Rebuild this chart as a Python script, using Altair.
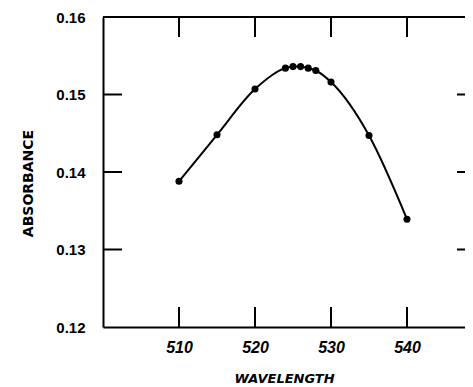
import altair as alt
import pandas as pd

# data
wavelength = [510, 515, 520, 524, 525, 526, 527, 528, 530, 535, 540]
absorbance = [0.1388, 0.1448, 0.1507, 0.1534, 0.1536, 0.1536, 0.1534, 0.1531, 0.1516, 0.1447, 0.1339]

x_ticks = [510, 520, 530, 540]
y_ticks = [0.12, 0.13, 0.14, 0.15, 0.16]
y_inner_ticks = [0.13, 0.14, 0.15]

W, H = 362, 310
X_DOMAIN = [500, 547.63]
Y_DOMAIN = [0.12, 0.16]

df = pd.DataFrame({"wavelength": wavelength, "absorbance": absorbance})
xt = pd.DataFrame({"wavelength": x_ticks})
yt = pd.DataFrame({"absorbance": y_inner_ticks})

xscale = alt.Scale(domain=X_DOMAIN, nice=False, zero=False)
yscale = alt.Scale(domain=Y_DOMAIN, nice=False, zero=False)

FONT = "Liberation Sans"
TFONT = "DejaVu Sans"

x_axis = alt.Axis(
    values=x_ticks,
    title="WAVELENGTH",
    ticks=False,
    grid=False,
    domainColor="black",
    domainWidth=2,
    labelFont=FONT,
    labelFontSize=16,
    labelFontWeight="bold",
    labelFontStyle="italic",
    labelColor="black",
    labelPadding=12,
    titleFont=TFONT,
    titleFontSize=13,
    titleFontWeight="bold",
    titleFontStyle="italic",
    titleColor="black",
    titlePadding=17,
)
y_axis = alt.Axis(
    values=y_ticks,
    format=".2f",
    title="ABSORBANCE",
    ticks=False,
    grid=False,
    domainColor="black",
    domainWidth=2,
    labelFont=FONT,
    labelFontSize=15,
    labelFontWeight="bold",
    labelColor="black",
    labelPadding=18,
    titleFont=TFONT,
    titleFontSize=14,
    titleFontWeight="bold",
    titleColor="black",
    titlePadding=20,
    titleY=166,
)

x_enc = alt.X("wavelength:Q", scale=xscale, axis=x_axis)
y_enc = alt.Y("absorbance:Q", scale=yscale, axis=y_axis)

line = alt.Chart(df).mark_line(color="black", strokeWidth=2, interpolate="monotone").encode(
    x=x_enc, y=y_enc
)
pts = alt.Chart(df).mark_circle(color="black", opacity=1, size=50).encode(x=x_enc, y=y_enc)

top_frame = alt.Chart(xt).mark_rule(color="black", strokeWidth=2).encode(
    x=alt.value(0), x2=alt.value(W), y=alt.value(0)
)

top_ticks = alt.Chart(xt).mark_rule(color="black", strokeWidth=2).encode(
    x=x_enc, y=alt.value(0), y2=alt.value(20)
)
bottom_ticks = alt.Chart(xt).mark_rule(color="black", strokeWidth=2).encode(
    x=x_enc, y=alt.value(H - 20), y2=alt.value(H)
)
left_ticks = alt.Chart(yt).mark_rule(color="black", strokeWidth=2).encode(
    y=y_enc, x=alt.value(0), x2=alt.value(19)
)
right_ticks = alt.Chart(yt).mark_rule(color="black", strokeWidth=2).encode(
    y=y_enc, x=alt.value(W - 8), x2=alt.value(W)
)

chart = (
    alt.layer(line, pts, top_frame, top_ticks, bottom_ticks, left_ticks, right_ticks)
    .properties(
        width=W,
        height=H,
        autosize=alt.AutoSizeParams(type="none"),
        padding={"left": 95, "top": 9, "right": 0, "bottom": 57},
        background="white",
    )
    .configure_view(stroke=None)
)

chart.save("out.html", embed_options={"renderer": "svg", "actions": False})
